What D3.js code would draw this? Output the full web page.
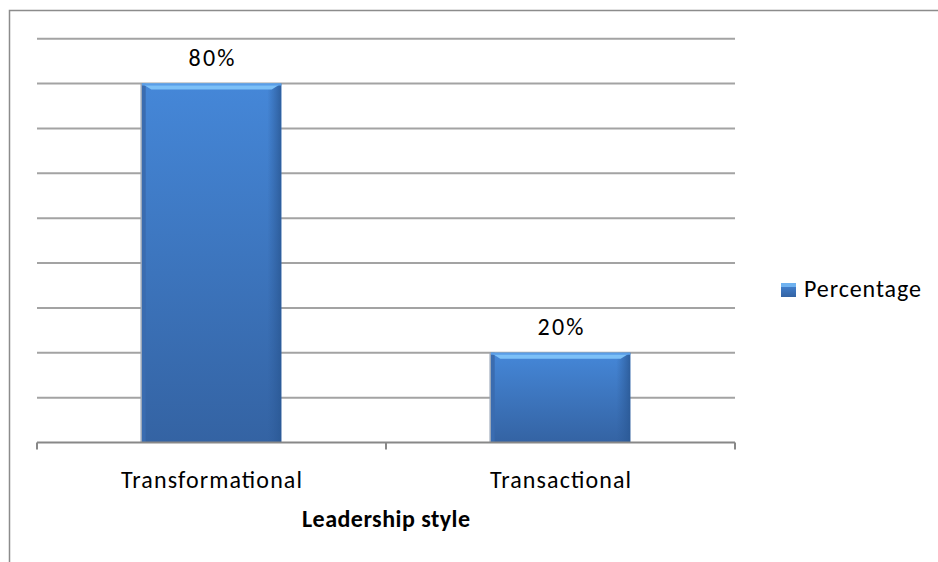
<!DOCTYPE html>
<html>
<head>
<meta charset="utf-8">
<script src="https://cdn.jsdelivr.net/npm/d3@7"></script>
<style>
  html, body { margin: 0; padding: 0; background: #fff; }
  svg { display: block; }
  text { font-family: Calibri, Carlito, "Open Sans", Lato, sans-serif; fill: #000; }
</style>
</head>
<body>
<svg id="chart" width="938" height="562"></svg>
<script>
// Leadership style survey results
const categories = ["Transformational", "Transactional"];
const percentages = [0.80, 0.20];
const seriesName = "Percentage";
const axisTitle = "Leadership style";
const gridValues = [0, 0.1, 0.2, 0.3, 0.4, 0.5, 0.6, 0.7, 0.8, 0.9];

const svg = d3.select("#chart");

// spread a text's glyphs so it covers the given width
function spreadTo(sel, width) {
  sel.attr("textLength", width).attr("lengthAdjust", "spacing");
}

// chart frame (extends past the right and bottom edges)
svg.append("rect")
  .attr("x", 9.5).attr("y", 10.5)
  .attr("width", 1000).attr("height", 600)
  .attr("fill", "none").attr("stroke", "#8c8c8c").attr("stroke-width", 1.5);

const plot = { left: 37, right: 735, top: 38.7, bottom: 442.5 };

const x = d3.scaleBand()
  .domain(categories)
  .range([plot.left, plot.right])
  .paddingInner(0.6)
  .paddingOuter(0.3);

const y = d3.scaleLinear()
  .domain([0, 0.9])
  .range([plot.bottom, plot.top]);

// horizontal gridlines
svg.append("g")
  .selectAll("line")
  .data(gridValues.filter(v => v > 0))
  .join("line")
  .attr("x1", plot.left).attr("x2", plot.right)
  .attr("y1", d => y(d)).attr("y2", d => y(d))
  .attr("stroke", "#a3a3a3").attr("stroke-width", 2);

// bar fill gradients
const defs = svg.append("defs");
const body = defs.append("linearGradient").attr("id", "barBody")
  .attr("x1", 0).attr("y1", 0).attr("x2", 0).attr("y2", 1);
body.append("stop").attr("offset", "0%").attr("stop-color", "#4587d8");
body.append("stop").attr("offset", "100%").attr("stop-color", "#3463a3");

const side = defs.append("linearGradient").attr("id", "barSide")
  .attr("x1", 0).attr("y1", 0).attr("x2", 1).attr("y2", 0);
side.append("stop").attr("offset", "0%").attr("stop-color", "#2e5d9c").attr("stop-opacity", 0.0);
side.append("stop").attr("offset", "100%").attr("stop-color", "#2a5894").attr("stop-opacity", 0.85);

const data = categories.map((c, i) => ({ cat: c, val: percentages[i] }));

const bars = svg.append("g").selectAll("g").data(data).join("g");

bars.each(function(d) {
  const g = d3.select(this);
  const x0 = x(d.cat), w = x.bandwidth();
  const yt = y(d.val), yb = y(0), h = yb - yt;
  const bev = 6;
  g.append("rect").attr("x", x0).attr("y", yt).attr("width", w).attr("height", h)
    .attr("fill", "url(#barBody)");
  // right shading
  g.append("rect").attr("x", x0 + w - 14).attr("y", yt).attr("width", 14).attr("height", h)
    .attr("fill", "url(#barSide)");
  // left darker edge
  g.append("rect").attr("x", x0).attr("y", yt).attr("width", 4).attr("height", h)
    .attr("fill", "#3a6cb0");
  // top bevel highlight
  g.append("polygon")
    .attr("points", [[x0, yt], [x0 + w, yt], [x0 + w - bev * 1.6, yt + bev], [x0 + bev * 1.6, yt + bev]].map(p => p.join(",")).join(" "))
    .attr("fill", "#7cc0f7");
  g.append("rect").attr("x", x0).attr("y", yt).attr("width", w).attr("height", 2)
    .attr("fill", "#5a9ee8");
  // outline on the left
  g.append("line").attr("x1", x0 - 0.5).attr("x2", x0 - 0.5).attr("y1", yt).attr("y2", yb)
    .attr("stroke", "#9aa7b8").attr("stroke-width", 1.5);

  // value label
  g.append("text")
    .attr("x", x0 + w / 2).attr("y", yt - 18)
    .attr("text-anchor", "middle")
    .attr("font-size", 24)
    .text(d3.format(".0%")(d.val))
    .call(spreadTo, 46);
});

// category axis
const xAxis = svg.append("g");
xAxis.append("line")
  .attr("x1", plot.left).attr("x2", plot.right)
  .attr("y1", plot.bottom).attr("y2", plot.bottom)
  .attr("stroke", "#888").attr("stroke-width", 2);
const tickPos = [plot.left, ...categories.slice(1).map(c => x(c) - x.step() * x.paddingInner() / 2), plot.right];
xAxis.selectAll("line.tick").data(tickPos).join("line")
  .attr("class", "tick")
  .attr("x1", d => d).attr("x2", d => d)
  .attr("y1", plot.bottom).attr("y2", plot.bottom + 7)
  .attr("stroke", "#888").attr("stroke-width", 2);
const catLabels = xAxis.selectAll("text").data(categories).join("text")
  .attr("x", d => x(d) + x.bandwidth() / 2)
  .attr("y", 488)
  .attr("text-anchor", "middle")
  .attr("font-size", 24)
  .text(d => d);
// widen category labels by a common factor
const baseW = catLabels.nodes()[0].getComputedTextLength();
const k = 181 / baseW;
catLabels.each(function() {
  d3.select(this).call(spreadTo, this.getComputedTextLength() * k);
});

// axis title
svg.append("text")
  .attr("x", (plot.left + plot.right) / 2)
  .attr("y", 527)
  .attr("text-anchor", "middle")
  .attr("font-size", 24)
  .attr("font-weight", "bold")
  .text(axisTitle)
  .call(spreadTo, 168);

// legend
const lg = svg.append("g").attr("transform", "translate(781,283)");
lg.append("rect").attr("width", 15).attr("height", 14).attr("fill", "url(#barBody)");
lg.append("rect").attr("width", 15).attr("height", 4).attr("fill", "#6fb2f0");
lg.append("text").attr("x", 23).attr("y", 14).attr("font-size", 24).text(seriesName)
  .call(spreadTo, 117);
</script>
</body>
</html>
